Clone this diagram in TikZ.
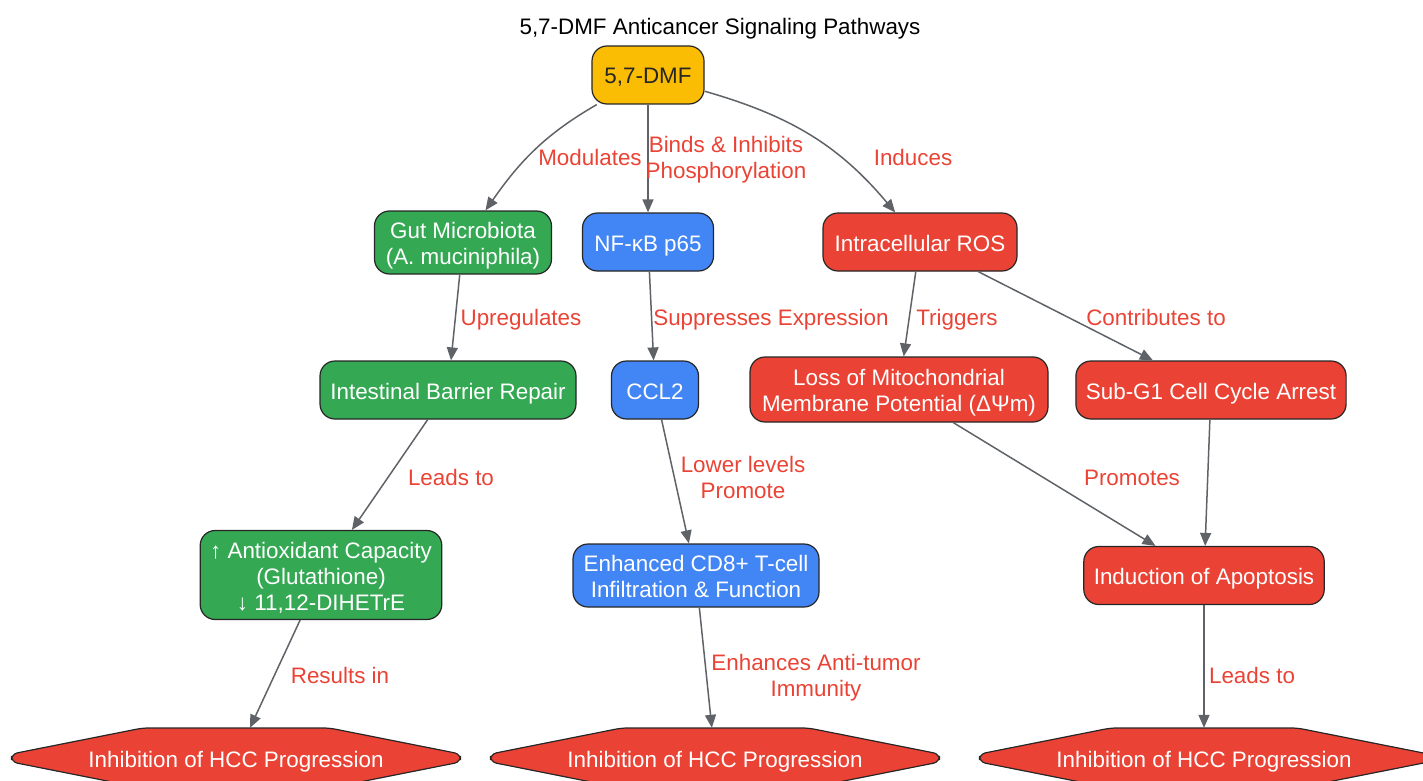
\documentclass[tikz,border=0pt]{standalone}
\usepackage{fontspec}
\setmainfont{Liberation Sans}
\usetikzlibrary{arrows.meta}
\definecolor{dmfgold}{HTML}{FBBC04}
\definecolor{gutgreen}{HTML}{34A853}
\definecolor{immblue}{HTML}{4285F4}
\definecolor{rosred}{HTML}{EA4335}
\definecolor{linkgray}{HTML}{5F6368}
\definecolor{boxink}{HTML}{262626}
\tikzstyle{dmf} = [rectangle, rounded corners=15pt, minimum height=58pt, inner xsep=10pt, inner ysep=7.5pt, text height=20pt, text depth=2pt, align=center, draw=boxink, line width=1.2pt, fill=dmfgold, text=black!85]
\tikzstyle{gut} = [rectangle, rounded corners=15pt, minimum height=58pt, inner xsep=10pt, inner ysep=7.5pt, text height=20pt, text depth=2pt, align=center, draw=boxink, line width=1.2pt, fill=gutgreen, text=white]
\tikzstyle{immune} = [rectangle, rounded corners=15pt, minimum height=58pt, inner xsep=10pt, inner ysep=7.5pt, text height=20pt, text depth=2pt, align=center, draw=boxink, line width=1.2pt, fill=immblue, text=white]
\tikzstyle{stress} = [rectangle, rounded corners=15pt, minimum height=58pt, inner xsep=10pt, inner ysep=7.5pt, text height=20pt, text depth=2pt, align=center, draw=boxink, line width=1.2pt, fill=rosred, text=white]
\tikzstyle{twoline} = [text height=46pt]
\tikzstyle{threeline} = [text height=72pt]
\tikzstyle{outcome} = [rectangle, minimum width=449pt, minimum height=60pt, text height=20pt, text depth=2pt, text=white]
\tikzstyle{hexa} = [fill=rosred, draw=boxink, line width=1.2pt, rounded corners=6pt]
\tikzstyle{link} = [line width=1.5pt, draw=linkgray, ->, >={Triangle[length=13pt,width=11pt]}]
\tikzstyle{tag} = [text=rosred, align=center, text height=20pt, text depth=2pt]
\newcommand{\hexnode}[4]{%
  \filldraw [hexa] (#2-224.5,#3-4) -- (#2-224.5,#3+4) -- (#2-93.5,#3+30) -- (#2+93.5,#3+30) -- (#2+224.5,#3+4) -- (#2+224.5,#3-4) -- (#2+93.5,#3-30) -- (#2-93.5,#3-30) -- cycle;
  \node (#1) [outcome] at (#2,#3) {#4};}

\begin{document}
\begin{tikzpicture}[x=1pt, y=-1pt, font=\fontsize{22.4}{26}\selectfont]
\useasboundingbox (0,0) rectangle (1423,781);
\clip (0,0) rectangle (1423,781);

\node (title) [text height=20pt, text depth=2pt] at (720,26) {5,7-DMF Anticancer Signaling Pathways};

\node (dmf) [dmf, minimum width=112pt] at (648,75) {5,7-DMF};

\node (gut) [gut, twoline, minimum width=177pt] at (463,242.5) {Gut Microbiota\\(A. muciniphila)};
\node (nfkb) [immune, minimum width=131pt] at (648,242) {NF-κB p65};
\node (ros) [stress, minimum width=194pt] at (920,242) {Intracellular ROS};

\node (barrier) [gut, minimum width=256pt] at (448,390) {Intestinal Barrier Repair};
\node (ccl2) [immune, minimum width=87pt] at (655,390) {CCL2};
\node (mito) [stress, twoline, minimum width=298pt, minimum height=65pt] at (899,389.5) {Loss of Mitochondrial\\Membrane Potential (ΔΨm)};
\node (subg1) [stress, minimum width=270pt] at (1211,390) {Sub-G1 Cell Cycle Arrest};

\node (antiox) [gut, threeline, minimum width=239pt] at (321,575) {↑ Antioxidant Capacity\\(Glutathione)\\↓ 11,12-DIHETrE};
\node (cd8) [immune, twoline, minimum width=246pt] at (696,575.5) {Enhanced CD8+ T-cell\\Infiltration \& Function};
\node (apop) [stress, minimum width=239pt] at (1204,575.5) {Induction of Apoptosis};

\hexnode{inh1}{236}{758}{Inhibition of HCC Progression}
\hexnode{inh2}{715}{758}{Inhibition of HCC Progression}
\hexnode{inh3}{1204}{758}{Inhibition of HCC Progression}

\draw [link] (dmf) to[out=210, in=55] (gut);
\draw [link] (dmf) -- (nfkb);
\draw [link] (dmf) to[out=344, in=130] (ros);
\draw [link] (gut) -- (barrier);
\draw [link] (nfkb) -- (ccl2);
\draw [link] (ros) -- (mito);
\draw [link] (ros) -- (subg1);
\draw [link] (barrier) -- (antiox);
\draw [link] (ccl2) -- (cd8);
\draw [link] (mito) -- (apop);
\draw [link] (subg1) -- (apop);
\draw [link] (antiox) -- (inh1);
\draw [link] (cd8) -- (inh2);
\draw [link] (apop) -- (inh3);

\node (t_mod) [tag] at (590,156) {Modulates};
\node (t_bind) [tag, twoline] at (726,156.5) {Binds \& Inhibits\\Phosphorylation};
\node (t_ind) [tag] at (913,156) {Induces};
\node (t_up) [tag] at (521,316) {Upregulates};
\node (t_sup) [tag] at (771,316) {Suppresses Expression};
\node (t_trig) [tag] at (957,316) {Triggers};
\node (t_contr) [tag] at (1156,316) {Contributes to};
\node (t_lead1) [tag] at (451,476) {Leads to};
\node (t_low) [tag, twoline] at (743,476) {Lower levels\\Promote};
\node (t_prom) [tag] at (1132,476) {Promotes};
\node (t_res) [tag] at (340,674) {Results in};
\node (t_enh) [tag, twoline] at (816,674) {Enhances Anti-tumor\\Immunity};
\node (t_lead2) [tag] at (1252,674) {Leads to};

\end{tikzpicture}
\end{document}
